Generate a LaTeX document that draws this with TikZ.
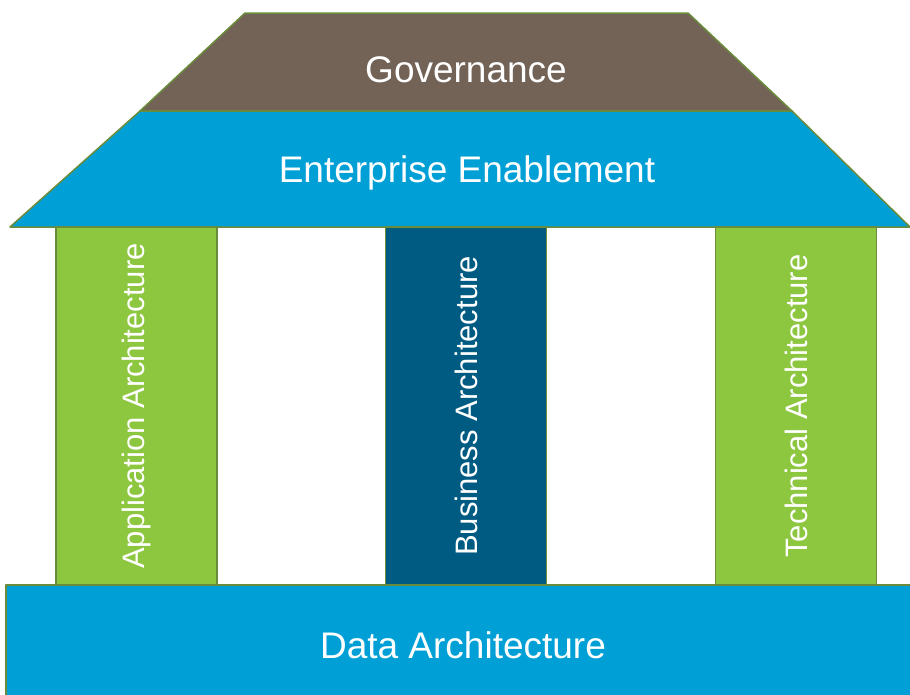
\documentclass[tikz,border=0pt]{standalone}
\usepackage{fontspec}
\setmainfont{Liberation Sans}
\usepackage{xcolor}
\definecolor{govbrown}{RGB}{115, 99, 87}
\definecolor{entblue}{RGB}{0, 160, 214}
\definecolor{pillargreen}{RGB}{141, 198, 63}
\definecolor{bizblue}{RGB}{0, 91, 130}
\definecolor{edgeolive}{RGB}{106, 140, 58}
\usetikzlibrary{positioning}

\begin{document}
\begin{tikzpicture}[
    x=1pt, y=-1pt,
    slab/.style={draw=edgeolive, line width=1.5pt, line join=round},
    pillar/.style={rectangle, draw=edgeolive, line width=1.2pt, rotate=90, minimum width=358pt, minimum height=161pt, inner sep=0pt, text=white, font=\fontsize{31}{36}\selectfont},
    label/.style={text=white, font=\fontsize{37}{42}\selectfont}
]
    \useasboundingbox (0,0) rectangle (910,694);

    % Roof
    \draw[slab, fill=govbrown] (245,13) -- (688,13) -- (792,111) -- (140,111) -- cycle;
    \draw[slab, fill=entblue] (140,111) -- (792,111) -- (910,227) -- (10,227) -- cycle;
    \node[label] (gov) at (466,70) {Governance};
    \node[label] (ent) at (467,173) {Enterprise Enablement};

    % Pillars
    \node[pillar, fill=pillargreen] (app) at (136.5,406) {Application Architecture};
    \node[pillar, fill=bizblue] (biz) at (466,406) {Business Architecture};
    \node[pillar, fill=pillargreen] (tech) at (796,406) {Technical Architecture};

    % Base
    \draw[slab, fill=entblue] (6,585) rectangle (915,700);
    \node[label] (data) at (463,645) {Data Architecture};
\end{tikzpicture}
\end{document}
